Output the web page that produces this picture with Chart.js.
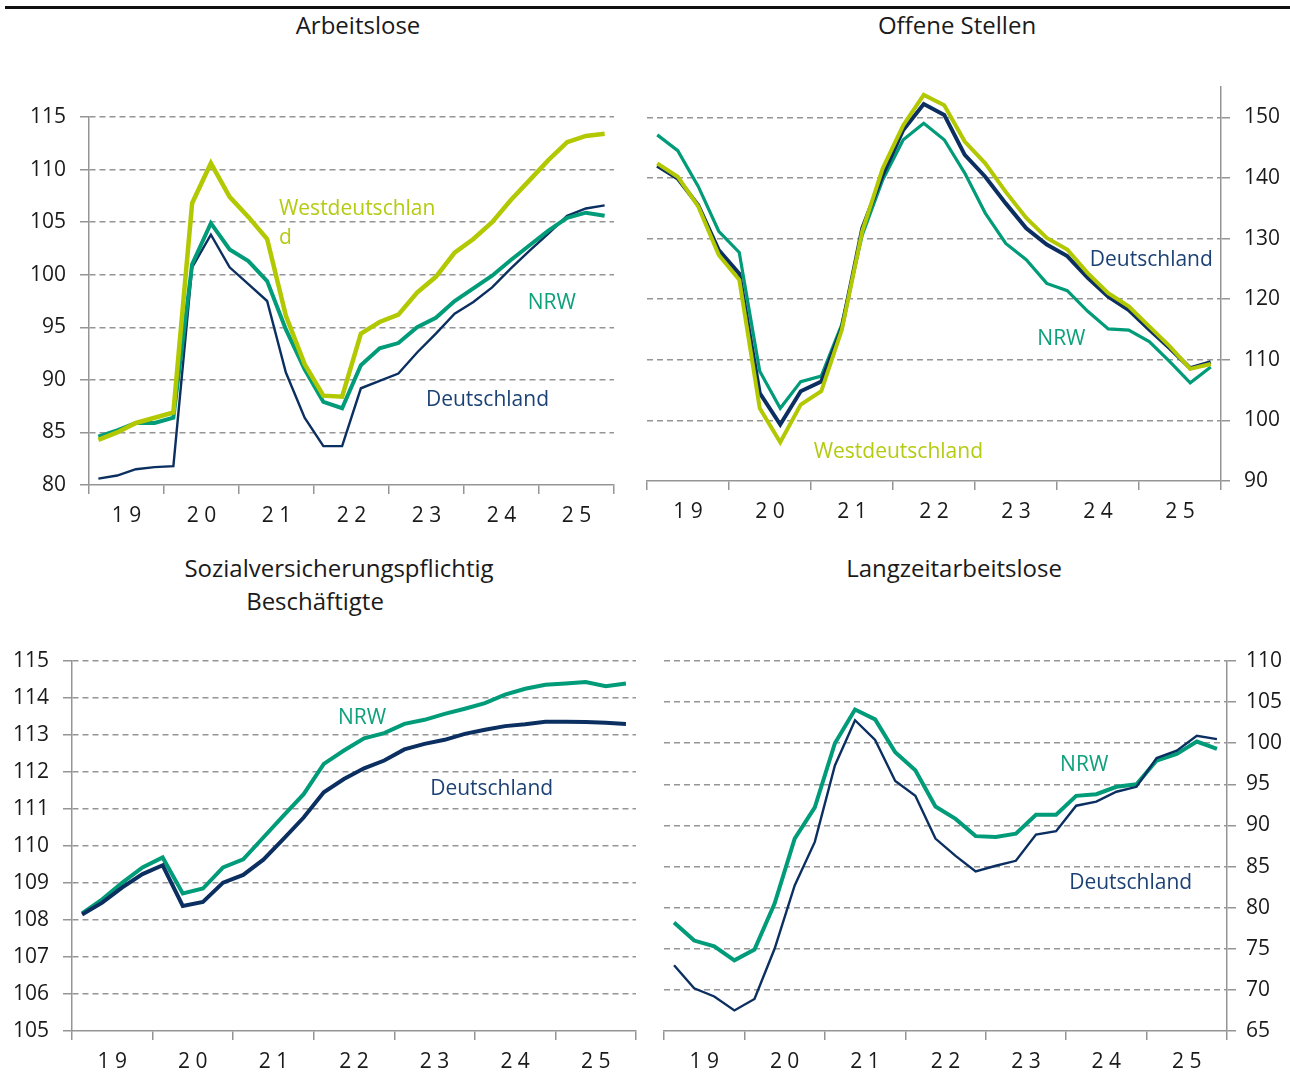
<!DOCTYPE html>
<html><head><meta charset="utf-8">
<script src="https://cdn.jsdelivr.net/npm/chart.js@4.4.1/dist/chart.umd.min.js"></script>
<style>
html,body{margin:0;padding:0;background:#fff;}
body{width:1290px;height:1073px;position:relative;overflow:hidden;font-family:'Open Sans',sans-serif;}
.t{position:absolute;font-size:24px;line-height:33px;color:#1a1a1a;white-space:nowrap;transform:translateX(-50%);}
.wrap{position:absolute;}
</style></head><body>
<div style="position:absolute;left:5px;top:6px;width:1285px;height:3px;background:#111"></div>
<div class="t" style="left:358px;top:8px">Arbeitslose</div>
<div class="t" style="left:957px;top:8px">Offene Stellen</div>
<div class="t" style="left:339px;top:551px">Sozialversicherungspflichtig</div>
<div class="t" style="left:315px;top:584px">Beschäftigte</div>
<div class="t" style="left:954px;top:551px">Langzeitarbeitslose</div>
<div class="wrap" style="left:0;top:40px;width:645px;height:510px"><canvas id="c1"></canvas></div>
<div class="wrap" style="left:638px;top:40px;width:652px;height:510px"><canvas id="c2"></canvas></div>
<div class="wrap" style="left:0;top:620px;width:645px;height:453px"><canvas id="c3"></canvas></div>
<div class="wrap" style="left:645px;top:620px;width:645px;height:453px"><canvas id="c4"></canvas></div>
<script>
// Quarterly data 2019 Q1 - 2025 Q4 (index values)
const quarters = ['2019Q1','2019Q2','2019Q3','2019Q4','2020Q1','2020Q2','2020Q3','2020Q4',
  '2021Q1','2021Q2','2021Q3','2021Q4','2022Q1','2022Q2','2022Q3','2022Q4',
  '2023Q1','2023Q2','2023Q3','2023Q4','2024Q1','2024Q2','2024Q3','2024Q4',
  '2025Q1','2025Q2','2025Q3','2025Q4'];
const yearLabels = ['1 9','2 0','2 1','2 2','2 3','2 4','2 5'];

// Arbeitslose
const alDE   = [80.6,80.9,81.5,81.7,81.8,100.7,103.8,100.7,99.1,97.5,90.7,86.4,83.7,83.7,89.2,89.9,90.6,92.6,94.4,96.3,97.4,98.8,100.6,102.3,103.9,105.6,106.3,106.6];
const alNRW  = [84.6,85.2,85.9,85.9,86.4,101.0,104.9,102.4,101.3,99.4,94.8,91.0,87.9,87.3,91.4,93.0,93.5,95.0,95.9,97.5,98.7,99.9,101.4,102.8,104.2,105.4,105.9,105.6];
const alWest = [84.3,85.0,85.9,86.4,86.9,106.8,110.6,107.4,105.5,103.4,96.1,91.5,88.5,88.4,94.4,95.5,96.2,98.3,99.8,102.1,103.4,105.0,107.1,109.0,110.9,112.6,113.2,113.4];
const alTicks = [80,85,90,95,100,105,110,115];

// Offene Stellen
const osDE   = [142.0,139.9,135.5,128.1,124.2,104.5,99.3,104.8,106.4,115.2,131.7,140.5,147.9,152.2,150.4,143.8,140.2,135.8,131.7,129.0,127.1,123.5,120.4,118.2,115.0,111.9,108.6,109.6];
const osNRW  = [147.1,144.5,138.6,131.2,127.7,108.1,102.0,106.4,107.3,115.8,130.6,139.7,146.3,149.0,146.3,140.8,134.2,129.2,126.5,122.6,121.4,118.0,115.1,114.9,113.0,109.7,106.2,108.8];
const osWest = [142.4,140.2,135.3,127.3,123.2,102.0,96.4,102.6,104.8,114.9,131.2,141.6,148.7,153.7,152.0,146.0,142.4,137.7,133.4,130.1,128.2,124.3,121.0,118.8,115.5,112.2,108.5,109.3];
const osTicks = [90,100,110,120,130,140,150];

// Sozialversicherungspflichtig Beschäftigte
const svbDE  = [108.15,108.47,108.88,109.24,109.48,108.38,108.49,109.01,109.22,109.63,110.19,110.77,111.45,111.81,112.10,112.31,112.61,112.76,112.87,113.03,113.14,113.24,113.29,113.36,113.36,113.35,113.33,113.30];
const svbNRW = [108.18,108.56,109.01,109.42,109.69,108.72,108.85,109.42,109.64,110.23,110.82,111.40,112.22,112.58,112.91,113.05,113.30,113.41,113.57,113.71,113.86,114.09,114.25,114.36,114.39,114.43,114.32,114.39];
const svbTicks = [105,106,107,108,109,110,111,112,113,114,115];

// Langzeitarbeitslose
const ltaDE  = [73.0,70.2,69.2,67.5,68.9,75.0,82.7,88.0,97.3,102.8,100.4,95.4,93.6,88.4,86.3,84.4,85.1,85.7,88.9,89.3,92.4,92.9,94.1,94.7,98.2,99.1,100.9,100.5];
const ltaNRW = [78.2,76.0,75.3,73.6,74.9,80.5,88.4,92.2,100.0,104.1,102.9,98.9,96.7,92.3,90.8,88.7,88.6,89.0,91.3,91.3,93.6,93.8,94.7,95.0,97.9,98.7,100.2,99.3];
const ltaTicks = [65,70,75,80,85,90,95,100,105,110];

const C_WEST = '#B2C800', C_NRW = '#009B78', C_DE = '#0B2F60';
const T_WEST = '#B5CB12', T_NRW = '#0FA07C', T_DE = '#1C4275';
const GRAY = '#959595';
const FONT = "'Open Sans', sans-serif";
Chart.defaults.font.family = FONT;

const seriesLabelPlugin = {
  id: 'seriesLabels',
  afterDatasetsDraw(chart, args, opts) {
    const ctx = chart.ctx, xs = chart.scales.x, ys = chart.scales.y;
    (opts.items || []).forEach(it => {
      ctx.save();
      ctx.font = '21px ' + FONT;
      ctx.fillStyle = it.color;
      ctx.textAlign = 'left';
      ctx.textBaseline = 'middle';
      const x = xs.getPixelForValue(it.u), y = ys.getPixelForValue(it.v);
      it.lines.forEach((ln, k) => ctx.fillText(ln, x, y + k * 29));
      ctx.restore();
    });
  }
};

function series(values, color, width) {
  return {
    data: values.map((v, i) => ({x: i + 0.5, y: v})),
    borderColor: color, borderWidth: width, pointRadius: 0, tension: 0, fill: false,
    borderJoinStyle: 'miter', borderCapStyle: 'butt'
  };
}

function makeChart(id, o) {
  const n = quarters.length;
  new Chart(document.getElementById(id), {
    type: 'line',
    data: {datasets: o.datasets},
    plugins: [seriesLabelPlugin],
    options: {
      responsive: true, maintainAspectRatio: false, animation: false,
      layout: {padding: o.padding},
      plugins: {legend: {display: false}, tooltip: {enabled: false}, seriesLabels: {items: o.labels}},
      scales: {
        x: {
          type: 'linear', min: 0, max: n,
          afterBuildTicks: ax => { const t = []; for (let v = 0; v <= n; v += 2) t.push({value: v}); ax.ticks = t; },
          afterFit: ax => { ax.height = o.xHeight; },
          grid: {drawOnChartArea: false, drawTicks: true, tickLength: 9,
            color: c => (c.tick && c.tick.value % 4 === 0) ? GRAY : 'rgba(0,0,0,0)', lineWidth: 1.5},
          border: {display: true, color: GRAY, width: 1.5},
          ticks: {autoSkip: false, maxRotation: 0, padding: 9, color: '#1a1a1a', font: {size: 21},
            callback: v => (v % 4 === 2) ? yearLabels[(v - 2) / 4] : ''}
        },
        y: {
          position: o.yPos, min: o.yMin, max: o.yMax,
          afterBuildTicks: ax => { ax.ticks = o.yTicks.map(v => ({value: v})); },
          afterFit: ax => { ax.width = o.yWidth; },
          grid: {drawTicks: true, tickLength: 9, lineWidth: 1.5, tickWidth: 1.5, tickColor: GRAY,
            color: c => (c.tick && c.tick.value === o.yMin) ? 'rgba(0,0,0,0)' : GRAY},
          border: {display: true, color: GRAY, width: 1.5, dash: [6, 4]},
          ticks: {padding: o.yPad, color: '#1a1a1a', font: {size: 21}}
        }
      }
    }
  });
}

makeChart('c1', {
  datasets: [series(alWest, C_WEST, 4.5), series(alNRW, C_NRW, 4), series(alDE, C_DE, 2.4)],
  yMin: 80, yMax: 115, yTicks: alTicks, yPos: 'left', yWidth: 89, xHeight: 55, yPad: 14,
  padding: {left: 0, right: 31, top: 77, bottom: 10},
  labels: [
    {lines: ['Westdeutschlan', 'd'], u: 10.13, v: 106.25, color: T_WEST},
    {lines: ['NRW'], u: 23.4, v: 97.3, color: T_NRW},
    {lines: ['Deutschland'], u: 17.97, v: 88.1, color: T_DE}
  ]
});

makeChart('c2', {
  datasets: [series(osWest, C_WEST, 4), series(osDE, C_DE, 4), series(osNRW, C_NRW, 3.2)],
  yMin: 90, yMax: 155, yTicks: osTicks, yPos: 'right', yWidth: 69, xHeight: 55, yPad: 14,
  padding: {left: 9, right: 0, top: 47, bottom: 14},
  labels: [
    {lines: ['Deutschland'], u: 21.6, v: 126.4, color: T_DE},
    {lines: ['NRW'], u: 19.04, v: 113.4, color: T_NRW},
    {lines: ['Westdeutschland'], u: 8.13, v: 94.8, color: T_WEST}
  ]
});

makeChart('c3', {
  datasets: [series(svbDE, C_DE, 4), series(svbNRW, C_NRW, 4)],
  yMin: 105, yMax: 115, yTicks: svbTicks, yPos: 'left', yWidth: 72, xHeight: 42, yPad: 14,
  padding: {left: 0, right: 9, top: 41, bottom: 0},
  labels: [
    {lines: ['NRW'], u: 13.2, v: 113.46, color: T_NRW},
    {lines: ['Deutschland'], u: 17.78, v: 111.54, color: T_DE}
  ]
});

makeChart('c4', {
  datasets: [series(ltaDE, C_DE, 2.4), series(ltaNRW, C_NRW, 4)],
  yMin: 65, yMax: 110, yTicks: ltaTicks, yPos: 'right', yWidth: 63, xHeight: 42, yPad: 10,
  padding: {left: 19, right: 0, top: 41, bottom: 0},
  labels: [
    {lines: ['NRW'], u: 19.7, v: 97.35, color: T_NRW},
    {lines: ['Deutschland'], u: 20.15, v: 83.0, color: T_DE}
  ]
});
</script>
</body></html>
